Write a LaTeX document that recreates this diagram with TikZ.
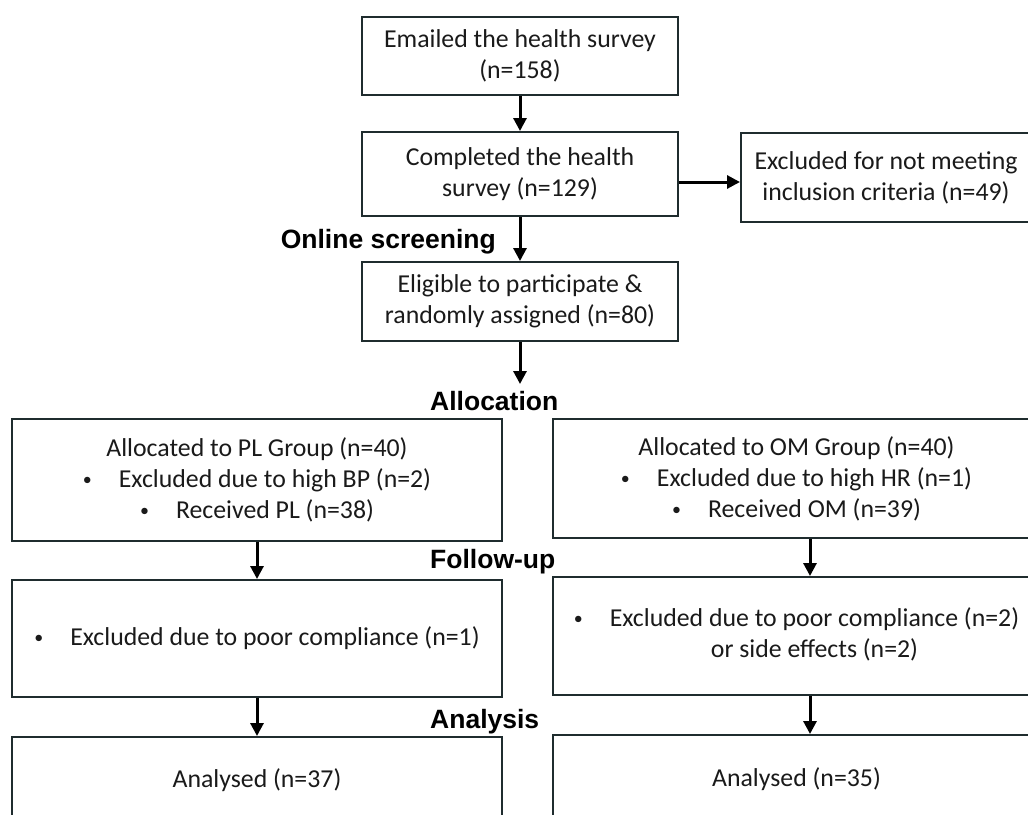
\documentclass[tikz,border=0pt]{standalone}
\usepackage{fontspec}
\setmainfont{Carlito}
\newfontfamily\headfont{Liberation Sans}
\usetikzlibrary{arrows.meta}
\definecolor{boxc}{HTML}{1F2C2E}
\definecolor{txtc}{HTML}{1A1A1A}
\newcommand{\bul}{\makebox[36pt][l]{\raisebox{2pt}{\fontsize{18}{18}\selectfont\textbullet}}}
\begin{document}
\begin{tikzpicture}[x=1pt,y=-1pt,
  box/.style={draw=boxc, line width=2pt, fill=white, rectangle, inner sep=0pt,
    align=center, font=\fontsize{25.8}{31}\selectfont, text=txtc},
  arr/.style={line width=3pt, draw=black, -{Triangle[length=13pt,width=13pt]}},
  head/.style={font=\headfont\bfseries\fontsize{26.5}{30}\selectfont, inner sep=0pt, text=black}]
\useasboundingbox (0,0) rectangle (1028,814);
\clip (0,0) rectangle (1028,814);
\fill[white] (0,0) rectangle (1028,814);

\node[box, minimum width=316pt, minimum height=78pt] (e1) at (520,56)
  {Emailed the health survey\\(n=158)};
\node[box, minimum width=316pt, minimum height=84pt] (e2) at (520,174)
  {Completed the health\\survey (n=129)};
\node[box, minimum width=290pt, minimum height=89pt] (ex) at (886,177.5)
  {Excluded for not meeting\\inclusion criteria (n=49)};
\node[box, minimum width=316pt, minimum height=79pt] (el) at (520,301.5)
  {Eligible to participate \&\\randomly assigned (n=80)};

\node[box, minimum width=490pt, minimum height=122pt] (pl1) at (257,480)
  {Allocated to PL Group (n=40)\\\bul Excluded due to high BP (n=2)\\\bul Received PL (n=38)};
\node[box, minimum width=487pt, minimum height=119pt] (om1) at (796.5,478.5)
  {Allocated to OM Group (n=40)\\\bul Excluded due to high HR (n=1)\\\bul Received OM (n=39)};

\node[box, minimum width=490pt, minimum height=117pt] (pl2) at (257,638.5)
  {\bul Excluded due to poor compliance (n=1)};
\node[box, minimum width=487pt, minimum height=118pt] (om2) at (796.5,636)
  {\bul\begin{tabular}[t]{@{}c@{}}Excluded due to poor compliance (n=2)\\or side effects (n=2)\end{tabular}};

\node[box, minimum width=490pt, minimum height=86pt] (pl3) at (257,780)
  {Analysed (n=37)};
\node[box, minimum width=487pt, minimum height=88pt] (om3) at (796.5,779)
  {Analysed (n=35)};

\node[head, anchor=base east] (hs) at (496,248) {Online screening};
\node[head, anchor=base west] (ha) at (430,410) {Allocation};
\node[head, anchor=base west] (hf) at (430,568) {Follow-up};
\node[head, anchor=base west] (hn) at (430,728) {Analysis};

\draw[arr] (e1.south) -- (e2.north);
\draw[arr] ([yshift=-8pt]e2.east) -- ([yshift=-8pt]e2.east -| ex.west);
\draw[arr] (e2.south) -- (el.north);
\coordinate (alloc) at (520,384);
\draw[arr] (el.south) -- (alloc);
\draw[arr] (pl1.south) -- (pl2.north);
\draw[arr] (om1.south -| 810,0) -- (om2.north -| 810,0);
\draw[arr] (pl2.south) -- (pl3.north);
\draw[arr] (om2.south -| 810,0) -- (om3.north -| 810,0);
\end{tikzpicture}
\end{document}
